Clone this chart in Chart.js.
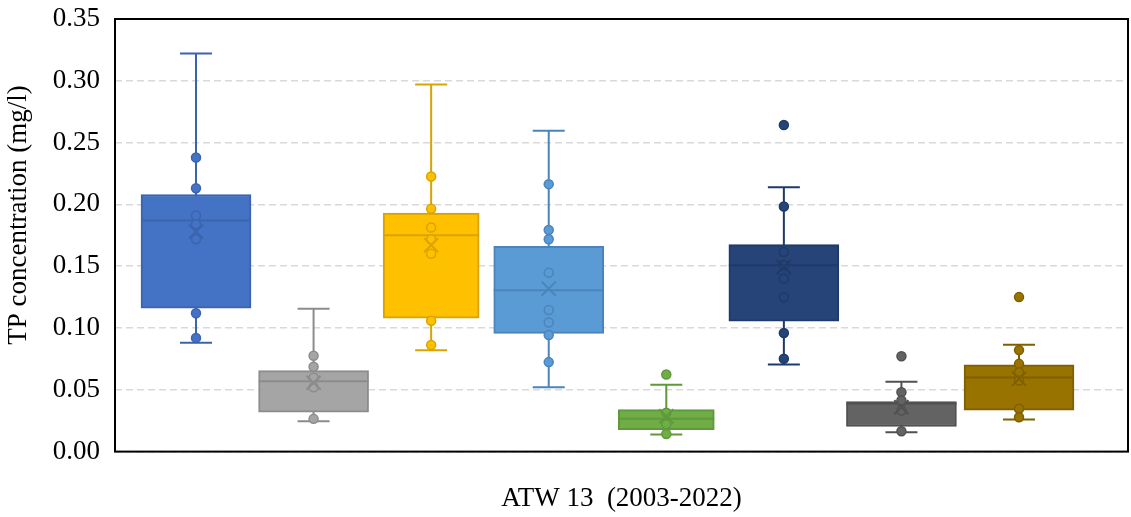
<!DOCTYPE html>
<html>
<head>
<meta charset="utf-8">
<script src="https://cdn.jsdelivr.net/npm/chart.js@4/dist/chart.umd.min.js"></script>
<style>
  html, body { margin: 0; padding: 0; background: #fff; }
  #wrap { width: 1131px; height: 517px; position: relative; }
</style>
</head>
<body>
<div id="wrap"><canvas id="chart"></canvas></div>
<script>
// TP concentration box plot, ATW 13 (2003-2022)
const category = 'ATW 13  (2003-2022)';
const yTitle = 'TP concentration (mg/l)';
const yTicks = [0, 0.05, 0.10, 0.15, 0.20, 0.25, 0.30, 0.35];

// five-number summaries per box
const whiskerLow  = [0.088, 0.0246, 0.082, 0.052,  0.0138, 0.0705, 0.0157, 0.0259];
const q1          = [0.116, 0.032,  0.108, 0.0956, 0.0178, 0.1056, 0.0203, 0.0335];
const median      = [0.187, 0.057,  0.175, 0.1305, 0.0265, 0.1507, 0.039,  0.060];
const q3          = [0.208, 0.0655, 0.193, 0.166,  0.034,  0.1675, 0.0405, 0.0703];
const whiskerHigh = [0.322, 0.1156, 0.297, 0.2596, 0.054,  0.2139, 0.0565, 0.0865];
const means       = [0.178, 0.0557, 0.167, 0.1318, 0.0286, 0.1494, 0.0359, 0.0589];

// individual points shown on each box
const points = [
  [0.238, 0.213, 0.191, 0.184, 0.172, 0.112, 0.092],
  [0.0775, 0.0686, 0.0597, 0.0521, 0.0265],
  [0.2226, 0.1964, 0.1813, 0.1718, 0.160, 0.1059, 0.0862],
  [0.2164, 0.1793, 0.1718, 0.1448, 0.1145, 0.1045, 0.0943, 0.0724],
  [0.0624, 0.0314, 0.0221, 0.0143],
  [0.2642, 0.1983, 0.1615, 0.151, 0.140, 0.1248, 0.0959, 0.0751],
  [0.0772, 0.048, 0.0413, 0.0332, 0.0165],
  [0.125, 0.0821, 0.071, 0.0643, 0.0575, 0.0346, 0.0278]
];

// styles
const fills = ['#4472C4', '#A5A5A5', '#FFC000', '#5B9BD5', '#70AD47', '#264478', '#636363', '#997300'];
const lines = ['#3A64AE', '#8C8C8C', '#D9A400', '#4A84BC', '#5E9A3A', '#1E3A68', '#515151', '#7F6000'];
const boxWidths = [110, 110, 96, 110, 96, 110, 110, 110];
const capWidth = 32;
const FONT = "'Liberation Serif', 'Times New Roman', serif";

const datasets = [];
fills.forEach((c, i) => {
  datasets.push({
    type: 'bar',
    data: [{ x: i + 1, y: [q1[i], q3[i]] }],
    backgroundColor: c,
    borderColor: lines[i],
    borderWidth: 2,
    borderSkipped: false,
    barThickness: boxWidths[i],
    grouped: false,
    order: 3,
    boxIndex: i
  });
});
points.forEach((arr, i) => {
  datasets.push({
    type: 'scatter',
    data: arr.map(v => ({ x: i + 1, y: v })),
    pointRadius: 4.5,
    pointBorderWidth: 1.5,
    pointBackgroundColor: fills[i],
    pointBorderColor: lines[i],
    order: 2
  });
});
datasets.push({
  type: 'scatter',
  data: means.map((v, i) => ({ x: i + 1, y: v })),
  pointStyle: 'crossRot',
  pointRadius: 10,
  pointBorderWidth: 2,
  pointBorderColor: lines,
  order: 1
});

const boxExtras = {
  id: 'boxExtras',
  beforeDatasetsDraw(chart) {
    const { ctx, scales: { x, y } } = chart;
    ctx.save();
    ctx.lineWidth = 2;
    fills.forEach((c, i) => {
      const px = x.getPixelForValue(i + 1);
      const lo = y.getPixelForValue(whiskerLow[i]);
      const hi = y.getPixelForValue(whiskerHigh[i]);
      ctx.strokeStyle = lines[i];
      ctx.beginPath();
      ctx.moveTo(px, lo); ctx.lineTo(px, hi);
      ctx.moveTo(px - capWidth / 2, lo); ctx.lineTo(px + capWidth / 2, lo);
      ctx.moveTo(px - capWidth / 2, hi); ctx.lineTo(px + capWidth / 2, hi);
      ctx.stroke();
    });
    ctx.restore();
  },
  afterDatasetDraw(chart, args) {
    const ds = chart.data.datasets[args.index];
    if (ds.boxIndex === undefined) return;
    const i = ds.boxIndex;
    const { ctx, scales: { x, y } } = chart;
    const px = x.getPixelForValue(i + 1);
    const py = y.getPixelForValue(median[i]);
    ctx.save();
    ctx.strokeStyle = lines[i];
    ctx.lineWidth = 2;
    ctx.beginPath();
    ctx.moveTo(px - boxWidths[i] / 2, py);
    ctx.lineTo(px + boxWidths[i] / 2, py);
    ctx.stroke();
    ctx.restore();
  },
  afterDraw(chart) {
    const { ctx, chartArea: a } = chart;
    ctx.save();
    ctx.strokeStyle = '#000';
    ctx.lineWidth = 2;
    ctx.strokeRect(a.left, a.top, a.right - a.left, a.bottom - a.top);
    // y axis title, sits a bit above the plot centre like the original
    ctx.translate(19, 215);
    ctx.rotate(-Math.PI / 2);
    ctx.font = '27px ' + FONT;
    ctx.fillStyle = '#000';
    ctx.textAlign = 'center';
    ctx.textBaseline = 'middle';
    ctx.fillText(yTitle, 0, 0);
    ctx.restore();
  }
};

new Chart(document.getElementById('chart'), {
  type: 'bar',
  data: { datasets },
  plugins: [boxExtras],
  options: {
    responsive: true,
    maintainAspectRatio: false,
    animation: false,
    layout: { autoPadding: false, padding: { top: 19, right: 3, bottom: 0, left: 0 } },
    plugins: { legend: { display: false }, tooltip: { enabled: false } },
    scales: {
      x: {
        type: 'linear',
        offset: false,
        min: 0.311,
        max: 8.927,
        grid: { display: false, offset: false },
        border: { display: false },
        ticks: { display: false },
        title: {
          display: true,
          text: category,
          color: '#000',
          font: { family: FONT, size: 27 },
          padding: { top: 23, bottom: 2 }
        }
      },
      y: {
        min: 0,
        max: 0.35,
        afterFit(scale) {
          scale.width = 115;
          scale.paddingTop = 0;
          scale.paddingBottom = 0;
        },
        afterBuildTicks(scale) { scale.ticks = yTicks.map(v => ({ value: v })); },
        ticks: {
          color: '#000',
          padding: 15,
          font: { family: FONT, size: 27 },
          callback: v => v.toFixed(2)
        },
        grid: { color: '#D9D9D9', lineWidth: 1.5, drawTicks: false },
        border: { display: false, dash: [7, 4] }
      }
    }
  }
});
</script>
</body>
</html>
